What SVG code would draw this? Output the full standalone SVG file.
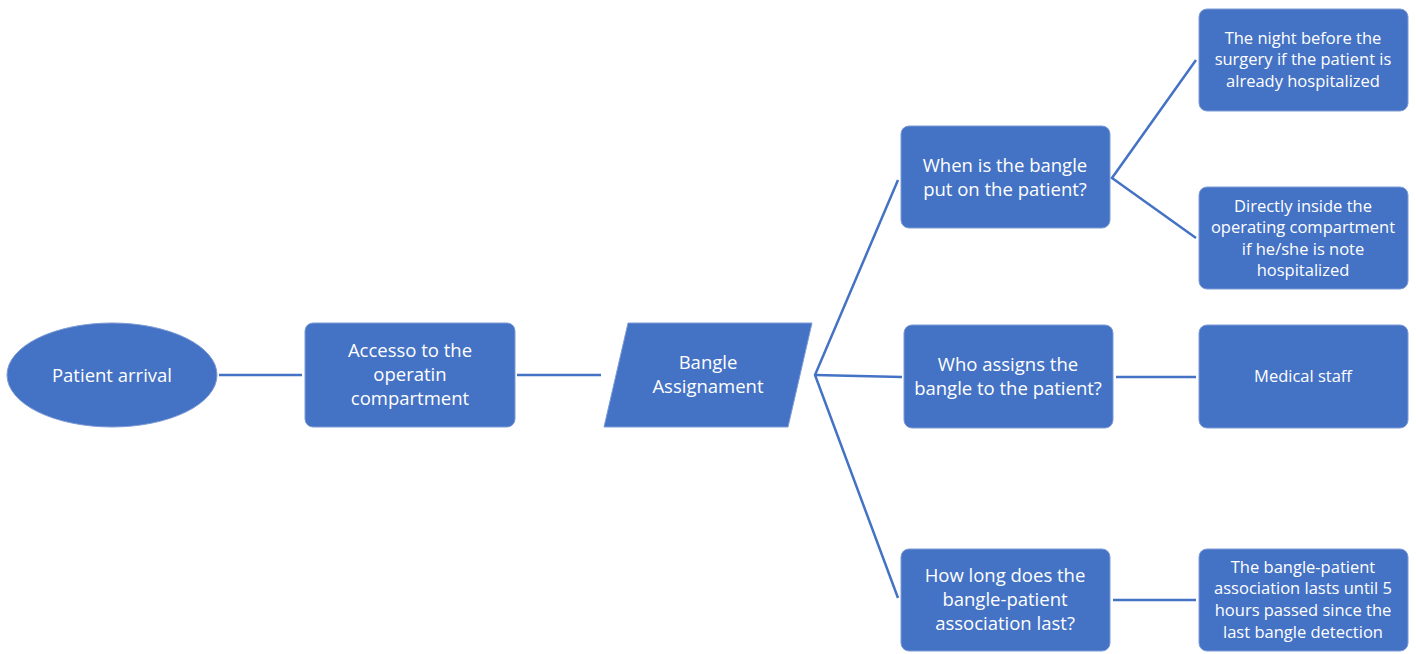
<svg xmlns="http://www.w3.org/2000/svg" width="1416" height="654" viewBox="0 0 1416 654">
<style>
.n{fill:#4472C4;stroke:#7d9bd6;stroke-width:1}
.c{stroke:#4472C4;stroke-width:2.5;fill:none}
.t{fill:#fff;font-family:"Open Sans","Liberation Sans",Arial,sans-serif;font-size:18.5px;text-anchor:middle}
.s{fill:#fff;font-family:"Open Sans","Liberation Sans",Arial,sans-serif;font-size:16.5px;text-anchor:middle}
</style>
<rect width="1416" height="654" fill="#fff"/>
<g id="connectors">
<line class="c" x1="219" y1="375" x2="302" y2="375"/>
<line class="c" x1="517" y1="375" x2="601" y2="375"/>
<polyline class="c" points="898,180 815,375 898,598"/>
<line class="c" x1="815" y1="375" x2="902" y2="377"/>
<polyline class="c" points="1196,60 1112,178 1196,238"/>
<line class="c" x1="1116" y1="377" x2="1196" y2="377"/>
<line class="c" x1="1113" y1="600" x2="1196" y2="600"/>
</g>
<g id="patient-arrival">
<ellipse class="n" cx="112" cy="375" rx="105" ry="52"/>
<text class="t" x="112" y="382">Patient arrival</text>
</g>
<g id="access">
<rect class="n" x="305" y="323" width="210" height="104" rx="8"/>
<text class="t"><tspan x="410" y="357">Accesso to the</tspan><tspan x="410" y="381">operatin</tspan><tspan x="410" y="405">compartment</tspan></text>
</g>
<g id="bangle-assignment">
<polygon class="n" points="628,323 812,323 788,427 604,427"/>
<text class="t"><tspan x="708" y="369">Bangle</tspan><tspan x="708" y="393">Assignament</tspan></text>
</g>
<g id="q-when">
<rect class="n" x="901" y="126" width="209" height="102" rx="8"/>
<text class="t"><tspan x="1005" y="172">When is the bangle</tspan><tspan x="1005" y="196">put on the patient?</tspan></text>
</g>
<g id="q-who">
<rect class="n" x="904" y="325" width="209" height="103" rx="8"/>
<text class="t"><tspan x="1008" y="371">Who assigns the</tspan><tspan x="1008" y="395">bangle to the patient?</tspan></text>
</g>
<g id="q-how-long">
<rect class="n" x="901" y="549" width="209" height="102" rx="8"/>
<text class="t"><tspan x="1005" y="582">How long does the</tspan><tspan x="1005" y="606">bangle-patient</tspan><tspan x="1005" y="630">association last?</tspan></text>
</g>
<g id="a-night">
<rect class="n" x="1199" y="9" width="209" height="102" rx="8"/>
<text class="s"><tspan x="1303" y="44">The night before the</tspan><tspan x="1303" y="65">surgery if the patient is</tspan><tspan x="1303" y="87">already hospitalized</tspan></text>
</g>
<g id="a-directly">
<rect class="n" x="1199" y="187" width="209" height="102" rx="8"/>
<text class="s"><tspan x="1303" y="212">Directly inside the</tspan><tspan x="1303" y="233">operating compartment</tspan><tspan x="1303" y="255">if he/she is note</tspan><tspan x="1303" y="276">hospitalized</tspan></text>
</g>
<g id="a-medical">
<rect class="n" x="1199" y="325" width="209" height="103" rx="8"/>
<text class="s" x="1303" y="382">Medical staff</text>
</g>
<g id="a-lasts">
<rect class="n" x="1199" y="549" width="209" height="102" rx="8"/>
<text class="s"><tspan x="1303" y="573">The bangle-patient</tspan><tspan x="1303" y="594">association lasts until 5</tspan><tspan x="1303" y="616">hours passed since the</tspan><tspan x="1303" y="638">last bangle detection</tspan></text>
</g>
</svg>
